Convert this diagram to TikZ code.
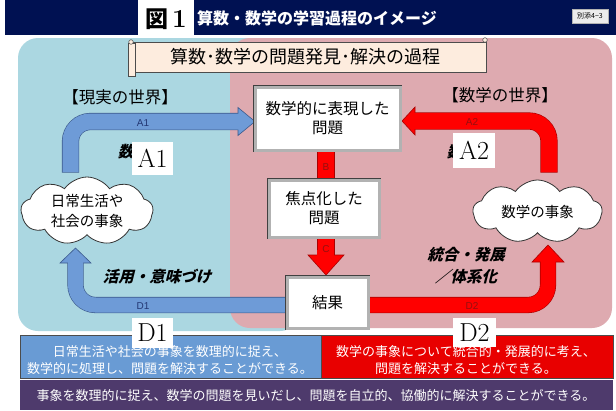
\documentclass[tikz,border=0pt]{standalone}
\usepackage{fontspec}
\newfontfamily\jp{Noto Sans CJK JP}
\newfontfamily\jpsl{Noto Sans CJK JP}[FakeSlant=0.25]
\newfontfamily\arial{Liberation Sans}
\usetikzlibrary{shapes.symbols}
\definecolor{navy}{RGB}{0,17,82}
\definecolor{bluebg}{RGB}{171,215,225}
\definecolor{pinkbg}{RGB}{222,170,176}
\definecolor{arrblue}{RGB}{110,155,215}
\definecolor{arrblueline}{RGB}{60,90,140}
\definecolor{arrred}{RGB}{255,0,0}
\definecolor{arrredline}{RGB}{170,0,0}
\definecolor{scrollc}{RGB}{253,236,222}
\definecolor{boxblue}{RGB}{105,155,212}
\definecolor{boxred}{RGB}{232,0,0}
\definecolor{boxpurple}{RGB}{78,58,108}
\definecolor{lblblue}{RGB}{35,55,115}
\definecolor{lblred}{RGB}{150,15,15}
\begin{document}
\begin{tikzpicture}[x=1pt,y=-1pt,
  bevel/.style={fill=white, draw=gray!60, line width=3pt,
    preaction={draw=black!75, line width=4.4pt}, inner sep=0pt, align=center,
    font=\jp\fontsize{15.5}{19}\selectfont},
  wlabel/.style={fill=white, inner sep=0pt, font=\fontsize{26}{26}\selectfont},
  cloudn/.style={cloud, cloud puffs=9, cloud puff arc=110, cloud ignores aspect, draw=black!80, fill=white,
    line width=0.8pt, align=center, inner sep=0pt, font=\jp\fontsize{14.5}{20}\selectfont},
  alab/.style={font=\arial\fontsize{10}{10}\selectfont, inner sep=0pt},
  slab/.style={font=\jpsl\bfseries\fontsize{15.5}{22}\selectfont, align=center, inner sep=0pt},
  wlab/.style={font=\jp\fontsize{16.5}{20}\selectfont, inner sep=0pt},
  btext/.style={font=\jp\fontsize{13}{17}\selectfont, text=white, align=center, inner sep=0pt}]
\useasboundingbox (0,0) rectangle (616,410);
\fill[white] (0,0) rectangle (616,410);
% header
\fill[navy] (5,0) rectangle (616,35);
\node[fill=white, minimum width=56pt, minimum height=38pt, inner sep=0pt] (fig) at (166,19) {};
\node[font=\jp\bfseries\fontsize{23}{23}\selectfont, inner sep=0pt] (figt) at (166,19.5) {図\,{\rmfamily\bfseries\fontsize{26}{26}\selectfont 1}};
\node[font=\jp\bfseries\fontsize{16}{16}\selectfont, text=white, anchor=west, inner sep=0pt] (title) at (197,18) {算数・数学の学習過程のイメージ};
\node[fill=gray!15, draw=gray!60, line width=0.3pt, minimum width=36pt, minimum height=14pt, inner sep=0pt, font=\jp\fontsize{7}{7}\selectfont] (annex) at (590,16) {別添4−3};
% background regions
\fill[bluebg, rounded corners=20pt] (18,38) rectangle (300,331);
\fill[pinkbg, rounded corners=20pt] (230,38) rectangle (612,328);
% scroll banner
\filldraw[fill=scrollc, draw=black!70, line width=0.6pt] (133,42) rectangle (486,72);
\filldraw[fill=scrollc, draw=black!70, line width=0.6pt] (128,43) rectangle (135,76);
\filldraw[fill=scrollc, draw=black!70, line width=0.5pt] (131,42) circle (2.3pt);
\filldraw[fill=scrollc, draw=black!70, line width=0.5pt] (485,40) circle (2.3pt);
\node[font=\jp\fontsize{18}{18}\selectfont, inner sep=0pt] (banner) at (305,57) {算数･数学の問題発見･解決の過程};
% world labels
\node[wlab] (real) at (120,97) {【現実の世界】};
\node[wlab] (math) at (500,95) {【数学の世界】};
% A1 arrow
\coordinate (a1s) at (70.5,172.6);
\coordinate (a1e) at (239.5,121.5);
\draw[line width=17.2pt, arrblueline, rounded corners=20pt] (a1s) |- (a1e);
\filldraw[fill=arrblue, draw=arrblueline, line width=0.6pt] (238,107.5) -- (255,121.5) -- (238,135.5) -- cycle;
\draw[line width=16pt, arrblue, rounded corners=20pt] (70.5,172) |- (a1e);
% A2 arrow
\coordinate (a2s) at (549,172.6);
\coordinate (a2e) at (414,121);
\draw[line width=17.2pt, arrredline, rounded corners=20pt] (a2s) |- (a2e);
\filldraw[fill=arrred, draw=arrredline, line width=0.6pt] (415,107) -- (402,121) -- (415,135) -- cycle;
\draw[line width=16pt, arrred, rounded corners=20pt] (549,172) |- (a2e);
% D1 arrow
\coordinate (d1s) at (300,305);
\coordinate (d1e) at (75.5,262);
\draw[line width=16.2pt, arrblueline, rounded corners=20pt] (d1s) -| (d1e);
\filldraw[fill=arrblue, draw=arrblueline, line width=0.6pt] (60,263) -- (75.5,248) -- (91,263) -- cycle;
\draw[line width=15pt, arrblue, rounded corners=20pt] (d1s) -| (d1e);
% D2 arrow
\coordinate (d2s) at (360,305);
\coordinate (d2e) at (548,261);
\draw[line width=16.2pt, arrredline, rounded corners=20pt] (d2s) -| (d2e);
\filldraw[fill=arrred, draw=arrredline, line width=0.6pt] (532,262) -- (548,245) -- (564,262) -- cycle;
\draw[line width=15pt, arrred, rounded corners=20pt] (d2s) -| (d2e);
% B band
\filldraw[fill=arrred, draw=arrredline, line width=0.6pt] (317,148) rectangle (334,183);
% C arrow
\filldraw[fill=arrred, draw=arrredline, line width=0.6pt] (317,235) rectangle (334,256);
\filldraw[fill=arrred, draw=arrredline, line width=0.6pt] (308,255) -- (326,275) -- (344,255) -- cycle;
\fill[arrred] (317.3,250) rectangle (333.7,256.5);
% boxes
\node[bevel, minimum width=145pt, minimum height=63pt] (p1) at (327.5,118.5) {数学的に表現した\\問題};
\node[bevel, minimum width=110pt, minimum height=57pt] (p2) at (324,208.5) {焦点化した\\問題};
\node[bevel, minimum width=81pt, minimum height=51pt] (res) at (327.5,302.5) {結果};
% clouds
\node[cloudn, minimum width=132pt, minimum height=68pt] (c1) at (87,211) {日常生活や\\社会の事象};
\node[cloudn, minimum width=129pt, minimum height=63pt] (c2) at (537.5,211.5) {数学の事象};
% arrow labels
\node[alab, text=lblblue] (la1) at (143,123) {A1};
\node[alab, text=lblred] (la2) at (472,122) {A2};
\node[alab, text=lblred] (lb) at (326,167) {B};
\node[alab, text=lblred] (lc) at (326,249) {C};
\node[alab, text=lblblue] (ld1) at (143,306) {D1};
\node[alab, text=lblred] (ld2) at (472,306) {D2};
% slanted labels
\node[slab] (m1) at (141,152) {数学化};
\node[slab] (m2) at (470,152) {数学化};
\node[slab] (use) at (157,277) {活用・意味づけ};
\node[slab] (integ) at (466,266) {統合・発展\\／体系化};
% bottom boxes
\fill[boxblue] (20,335) rectangle (321,378);
\draw[black!70, line width=0.6pt] (20,335) rectangle (321,378);
\node[btext] (bt1) at (170,360.5) {日常生活や社会の事象を数理的に捉え、\\数学的に処理し、問題を解決することができる。};
\fill[boxred] (321,335) rectangle (613,378);
\draw[black!70, line width=0.6pt] (321,335) rectangle (613,378);
\node[btext] (bt2) at (466,360.5) {数学の事象について統合的・発展的に考え、\\問題を解決することができる。};
\fill[boxpurple] (20,380) rectangle (613,410);
\node[btext] (bt3) at (316,396) {事象を数理的に捉え、数学の問題を見いだし、問題を自立的、協働的に解決することができる。};
% white overlay labels
\node[wlabel, minimum width=41pt, minimum height=33pt] (wa1) at (152.5,158.5) {A1};
\node[wlabel, minimum width=42pt, minimum height=35pt] (wa2) at (474,150.5) {A2};
\node[wlabel, minimum width=41pt, minimum height=30pt] (wd1) at (152.5,333) {D1};
\node[wlabel, minimum width=43pt, minimum height=29pt] (wd2) at (474.5,332.5) {D2};
\end{tikzpicture}
\end{document}
